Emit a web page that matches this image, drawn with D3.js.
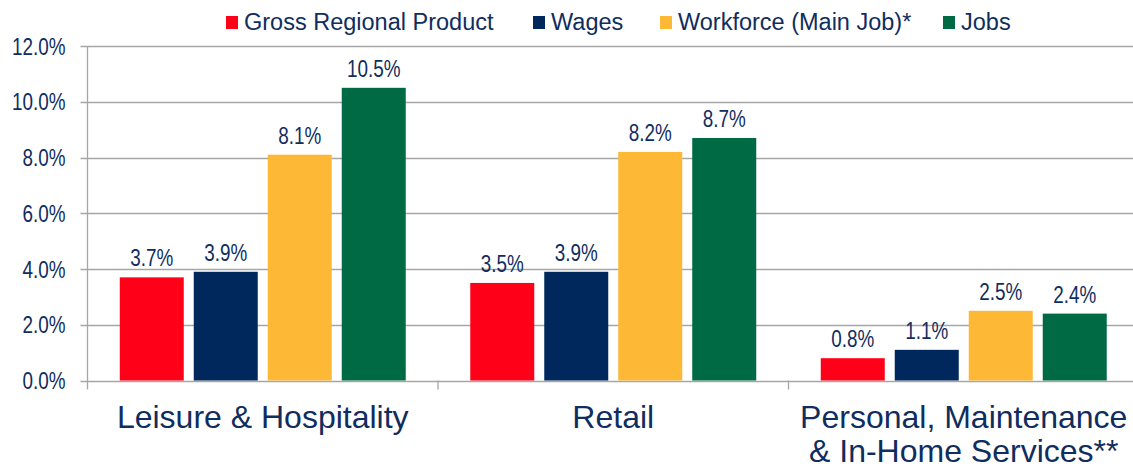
<!DOCTYPE html>
<html>
<head>
<meta charset="utf-8">
<script src="https://cdn.jsdelivr.net/npm/d3@7"></script>
<style>
  body { margin: 0; background: #fff; }
  svg text { font-family: "Liberation Sans", Arial, sans-serif; fill: #0f2d5e; }
  svg text.narrow { font-family: "Liberation Sans Narrow", "Arial Narrow", "Liberation Sans", sans-serif; }
</style>
</head>
<body>
<script>
var categories = [
  ["Leisure & Hospitality"],
  ["Retail"],
  ["Personal, Maintenance", "& In-Home Services**"]
];
var series = ["Gross Regional Product", "Wages", "Workforce (Main Job)*", "Jobs"];
var colors = ["#ff0019", "#00285c", "#fdb835", "#006a44"];
var grpValues = [3.7, 3.5, 0.8];
var wageValues = [3.9, 3.9, 1.1];
var workforceValues = [8.1, 8.2, 2.5];
var jobsValues = [10.5, 8.7, 2.4];
var yTicks = [0, 2, 4, 6, 8, 10, 12];

var width = 1133, height = 470;
var margin = {top: 46, left: 87.5, bottom: 89.5};
var plotRight = 1139;

var svg = d3.select("body").append("svg")
    .attr("width", width)
    .attr("height", height);

var catKeys = categories.map(function(d) { return d.join(" "); });
var x0 = d3.scaleBand().domain(catKeys).range([margin.left, plotRight]);
var x1 = d3.scaleBand().domain(series).range([0, x0.bandwidth()])
    .paddingInner(10 / 74).paddingOuter(0.436);
var y = d3.scaleLinear().domain([0, 12]).range([height - margin.bottom, margin.top]);

// narrow text: squeeze if the narrow font isn't there
function narrow(sel) {
  sel.each(function() {
    var t = d3.select(this);
    var w = this.getComputedTextLength();
    var fs = parseFloat(t.style("font-size"));
    var probe = svg.append("text").style("font-family", "Liberation Sans").style("font-size", fs + "px").text(t.text());
    var wide = probe.node().getComputedTextLength();
    probe.remove();
    if (w > wide * 0.9) t.attr("textLength", wide * 0.82).attr("lengthAdjust", "spacingAndGlyphs");
  });
}

// gridlines
svg.append("g").selectAll("line")
    .data(yTicks)
  .enter().append("line")
    .attr("x1", margin.left - 7).attr("x2", width)
    .attr("y1", function(d) { return Math.round(y(d)) + 0.5; })
    .attr("y2", function(d) { return Math.round(y(d)) + 0.5; })
    .style("stroke", "#a6a6a6").style("stroke-width", 1.3);

// y axis
var yAxis = d3.axisLeft(y).tickValues(yTicks)
    .tickFormat(function(d) { return d.toFixed(1) + "%"; })
    .tickSize(0).tickPadding(22);
var ya = svg.append("g").attr("transform", "translate(" + margin.left + ",0)").call(yAxis);
ya.select(".domain").remove();
ya.selectAll("text").attr("class", "narrow")
    .style("font-size", "23px").style("fill", "#0f2d5e").style("font-family", null).attr("dy", "0.35em");
ya.selectAll("text").call(narrow);

svg.append("line")
    .attr("x1", margin.left).attr("x2", margin.left)
    .attr("y1", y(12)).attr("y2", y(0) + 9)
    .style("stroke", "#a6a6a6").style("stroke-width", 1.3);

// category separators
svg.append("g").selectAll("line")
    .data(catKeys.slice(1))
  .enter().append("line")
    .attr("x1", function(d) { return x0(d); })
    .attr("x2", function(d) { return x0(d); })
    .attr("y1", y(0)).attr("y2", y(0) + 9)
    .style("stroke", "#a6a6a6").style("stroke-width", 1.3);

var rows = catKeys.map(function(k, i) {
  return {key: k, values: [grpValues[i], wageValues[i], workforceValues[i], jobsValues[i]]};
});

var groups = svg.selectAll(".grp")
    .data(rows)
  .enter().append("g")
    .attr("class", "grp")
    .attr("transform", function(d) { return "translate(" + x0(d.key) + ",0)"; });

var bars = groups.selectAll(".bar")
    .data(function(d) { return d.values.map(function(v, j) { return {s: series[j], v: v, c: colors[j]}; }); })
  .enter();

bars.append("rect")
    .attr("x", function(d) { return x1(d.s); })
    .attr("width", x1.bandwidth())
    .attr("y", function(d) { return y(d.v); })
    .attr("height", function(d) { return y(0) - y(d.v); })
    .style("fill", function(d) { return d.c; });

bars.append("text")
    .attr("class", "narrow")
    .attr("x", function(d) { return x1(d.s) + x1.bandwidth() / 2; })
    .attr("y", function(d) { return y(d.v) - 11; })
    .attr("text-anchor", "middle")
    .style("font-size", "23px")
    .text(function(d) { return d.v.toFixed(1) + "%"; })
    .call(narrow);

// category labels
var catLabels = svg.append("g").selectAll("text")
    .data(categories)
  .enter().append("text")
    .attr("text-anchor", "middle")
    .style("font-size", "32px")
    .attr("transform", function(d, i) { return "translate(" + (x0(catKeys[i]) + x0.bandwidth() / 2) + ",428)"; });
catLabels.selectAll("tspan")
    .data(function(d) { return d; })
  .enter().append("tspan")
    .attr("x", 0)
    .attr("dy", function(d, i) { return i ? 34 : 0; })
    .text(function(d) { return d; });

// legend
var legendX = [226, 533, 660, 943];
var legend = svg.selectAll(".legend")
    .data(series)
  .enter().append("g")
    .attr("class", "legend")
    .attr("transform", function(d, i) { return "translate(" + legendX[i] + ",16)"; });
legend.append("rect")
    .attr("width", 12).attr("height", 13)
    .style("fill", function(d, i) { return colors[i]; });
legend.append("text")
    .attr("x", 18).attr("y", 14)
    .style("font-size", "23.5px")
    .text(function(d) { return d; });
</script>
</body>
</html>
